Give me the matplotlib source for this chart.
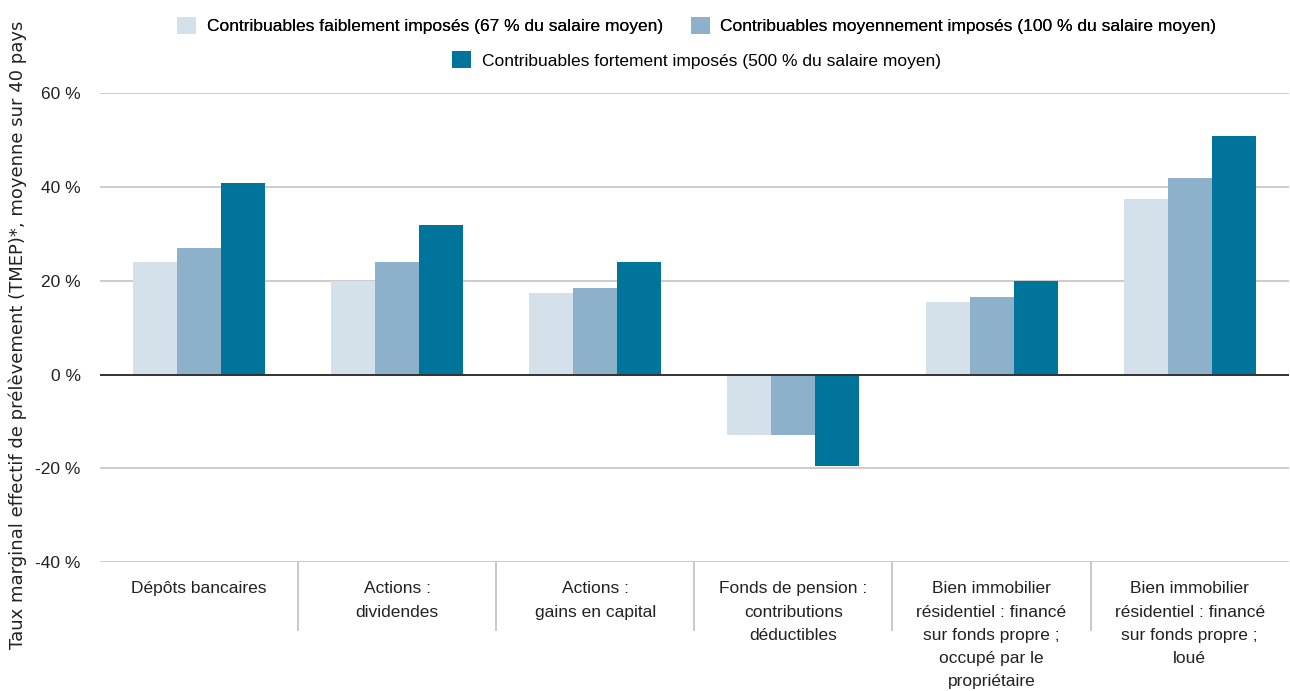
import numpy as np
import matplotlib
matplotlib.use("Agg")
import matplotlib.pyplot as plt
from matplotlib.patches import Patch

# ---------------------------------------------------------------------------
# data
# ---------------------------------------------------------------------------
categories = [
    "Dépôts bancaires",
    "Actions :\ndividendes",
    "Actions :\ngains en capital",
    "Fonds de pension :\ncontributions\ndéductibles",
    "Bien immobilier\nrésidentiel : financé\nsur fonds propre ;\noccupé par le\npropriétaire",
    "Bien immobilier\nrésidentiel : financé\nsur fonds propre ;\nloué",
]
series_names = [
    "Contribuables faiblement imposés (67 % du salaire moyen)",
    "Contribuables moyennement imposés (100 % du salaire moyen)",
    "Contribuables fortement imposés (500 % du salaire moyen)",
]
low = [24, 20, 17.5, -13, 15.5, 37.5]
mid = [27, 24, 18.5, -13, 16.5, 42]
high = [41, 32, 24, -19.5, 20, 51]
yticks = [-40, -20, 0, 20, 40, 60]
ylabel = "Taux marginal effectif de prélèvement (TMEP)*, moyenne sur 40 pays"

colors = ["#d4e0ea", "#8eb1cb", "#00749a"]
FONT = ["Liberation Sans", "DejaVu Sans"]
plt.rcParams["font.family"] = FONT
FS = 12.5

# ---------------------------------------------------------------------------
# plot
# ---------------------------------------------------------------------------
fig = plt.figure(figsize=(12.9, 6.91), dpi=100)
ax = fig.add_axes([0.0775, 0.1867, 0.9215, 0.678])

x = np.arange(len(categories))
w = 0.222
for i, (vals, c) in enumerate(zip([low, mid, high], colors)):
    ax.bar(x + (i - 1) * w, vals, width=w, color=c, zorder=3, linewidth=0)

ax.set_xlim(-0.5, len(categories) - 0.5)
ax.set_ylim(-40, 60)
ax.set_yticks(yticks)
ax.set_yticklabels([f"{v} %" for v in yticks], fontsize=FS, color="#222222")
ax.tick_params(axis="y", length=0, pad=14)

ax.set_xticks(x)
ax.set_xticklabels(categories, fontsize=FS, color="#222222", linespacing=1.68)
ax.tick_params(axis="x", which="major", length=0, pad=14)
ax.set_xticks(np.arange(0.5, len(categories) - 1), minor=True)
ax.tick_params(axis="x", which="minor", length=50, width=1.2, color="#c0c0c0",
               direction="out")

ax.grid(axis="y", color="#c8c8c8", lw=1.3, zorder=0)
ax.axhline(0, color="#333333", lw=1.4, zorder=4)
for s in ["top", "right", "left", "bottom"]:
    ax.spines[s].set_visible(False)

fig.text(0.014, 0.515, ylabel, rotation=90, ha="center", va="center",
         fontsize=13, family=["DejaVu Sans"], color="#222222")

# legend: two rows, centred
handles = [Patch(facecolor=c, edgecolor="none") for c in colors]
leg1 = fig.legend(handles[:2], series_names[:2], ncol=2, loc="center",
                  bbox_to_anchor=(0.54, 0.963), frameon=False, fontsize=FS,
                  handlelength=1.1, handleheight=1.1, handletextpad=0.6,
                  columnspacing=1.6)
fig.add_artist(leg1)
fig.legend(handles[2:], series_names[2:], loc="center",
           bbox_to_anchor=(0.54, 0.913), frameon=False, fontsize=FS,
           handlelength=1.1, handleheight=1.1, handletextpad=0.6)

fig.savefig("out.png", dpi=100)
